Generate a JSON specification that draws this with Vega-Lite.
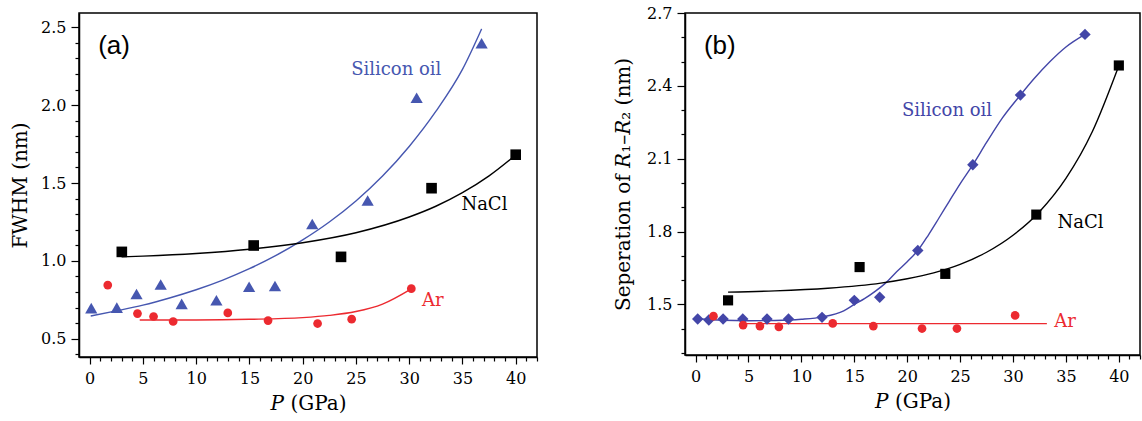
{
  "$schema": "https://vega.github.io/schema/vega-lite/v6.json",
  "background": "white",
  "padding": {"left": 9, "top": 4, "right": 0, "bottom": 0},
  "spacing": 148,
  "bounds": "flush",
  "config": {
    "view": {"stroke": "black", "strokeWidth": 1.5},
    "axis": {
      "domainColor": "black", "domainWidth": 1.5, "tickColor": "black", "tickWidth": 1.2,
      "labelFont": "DejaVu Serif", "labelFontSize": 16, "labelColor": "black",
      "titleFont": "DejaVu Serif", "titleFontSize": 20, "titleFontWeight": "normal", "titleColor": "black",
      "grid": false, "labelOverlap": false, "labelBound": false, "labelFlush": false
    }
  },
  "resolve": {"scale": {"color": "independent", "shape": "independent", "size": "independent"}},
  "datasets": {
    "pts": [
      {"panel": "a", "series": "Silicon oil", "P": 0.15, "v": 0.697},
      {"panel": "a", "series": "Silicon oil", "P": 2.55, "v": 0.70},
      {"panel": "a", "series": "Silicon oil", "P": 4.4, "v": 0.788},
      {"panel": "a", "series": "Silicon oil", "P": 6.67, "v": 0.849},
      {"panel": "a", "series": "Silicon oil", "P": 8.64, "v": 0.724},
      {"panel": "a", "series": "Silicon oil", "P": 11.9, "v": 0.747},
      {"panel": "a", "series": "Silicon oil", "P": 14.97, "v": 0.834},
      {"panel": "a", "series": "Silicon oil", "P": 17.4, "v": 0.839},
      {"panel": "a", "series": "Silicon oil", "P": 20.9, "v": 1.237},
      {"panel": "a", "series": "Silicon oil", "P": 26.1, "v": 1.388},
      {"panel": "a", "series": "Silicon oil", "P": 30.7, "v": 2.048},
      {"panel": "a", "series": "Silicon oil", "P": 36.8, "v": 2.398},
      {"panel": "a", "series": "NaCl", "P": 3.02, "v": 1.058},
      {"panel": "a", "series": "NaCl", "P": 15.4, "v": 1.099},
      {"panel": "a", "series": "NaCl", "P": 23.6, "v": 1.026},
      {"panel": "a", "series": "NaCl", "P": 32.1, "v": 1.467},
      {"panel": "a", "series": "NaCl", "P": 40.0, "v": 1.682},
      {"panel": "a", "series": "Ar", "P": 1.7, "v": 0.845},
      {"panel": "a", "series": "Ar", "P": 4.49, "v": 0.662},
      {"panel": "a", "series": "Ar", "P": 6.0, "v": 0.643},
      {"panel": "a", "series": "Ar", "P": 7.84, "v": 0.611},
      {"panel": "a", "series": "Ar", "P": 12.97, "v": 0.666},
      {"panel": "a", "series": "Ar", "P": 16.75, "v": 0.617},
      {"panel": "a", "series": "Ar", "P": 21.4, "v": 0.598},
      {"panel": "a", "series": "Ar", "P": 24.6, "v": 0.626},
      {"panel": "a", "series": "Ar", "P": 30.2, "v": 0.822},
      {"panel": "b", "series": "Silicon oil", "P": 0.2, "v": 1.440},
      {"panel": "b", "series": "Silicon oil", "P": 1.25, "v": 1.436},
      {"panel": "b", "series": "Silicon oil", "P": 2.6, "v": 1.440},
      {"panel": "b", "series": "Silicon oil", "P": 4.46, "v": 1.440},
      {"panel": "b", "series": "Silicon oil", "P": 6.75, "v": 1.440},
      {"panel": "b", "series": "Silicon oil", "P": 8.78, "v": 1.440},
      {"panel": "b", "series": "Silicon oil", "P": 11.95, "v": 1.447},
      {"panel": "b", "series": "Silicon oil", "P": 15.0, "v": 1.517},
      {"panel": "b", "series": "Silicon oil", "P": 17.4, "v": 1.530},
      {"panel": "b", "series": "Silicon oil", "P": 21.0, "v": 1.722},
      {"panel": "b", "series": "Silicon oil", "P": 26.2, "v": 2.075},
      {"panel": "b", "series": "Silicon oil", "P": 30.7, "v": 2.362},
      {"panel": "b", "series": "Silicon oil", "P": 36.8, "v": 2.612},
      {"panel": "b", "series": "NaCl", "P": 3.07, "v": 1.517},
      {"panel": "b", "series": "NaCl", "P": 15.5, "v": 1.654},
      {"panel": "b", "series": "NaCl", "P": 23.6, "v": 1.626},
      {"panel": "b", "series": "NaCl", "P": 32.2, "v": 1.870},
      {"panel": "b", "series": "NaCl", "P": 40.0, "v": 2.484},
      {"panel": "b", "series": "Ar", "P": 1.69, "v": 1.452},
      {"panel": "b", "series": "Ar", "P": 4.49, "v": 1.415},
      {"panel": "b", "series": "Ar", "P": 6.08, "v": 1.411},
      {"panel": "b", "series": "Ar", "P": 7.87, "v": 1.408},
      {"panel": "b", "series": "Ar", "P": 12.96, "v": 1.422},
      {"panel": "b", "series": "Ar", "P": 16.8, "v": 1.411},
      {"panel": "b", "series": "Ar", "P": 21.4, "v": 1.401},
      {"panel": "b", "series": "Ar", "P": 24.7, "v": 1.401},
      {"panel": "b", "series": "Ar", "P": 30.2, "v": 1.455}
    ],
    "crv": [
      {"panel": "a", "series": "Silicon oil", "P": 0.1, "v": 0.646},
      {"panel": "a", "series": "Silicon oil", "P": 2.5, "v": 0.679},
      {"panel": "a", "series": "Silicon oil", "P": 5, "v": 0.716},
      {"panel": "a", "series": "Silicon oil", "P": 7.5, "v": 0.762},
      {"panel": "a", "series": "Silicon oil", "P": 10, "v": 0.815},
      {"panel": "a", "series": "Silicon oil", "P": 12.5, "v": 0.877},
      {"panel": "a", "series": "Silicon oil", "P": 15, "v": 0.95},
      {"panel": "a", "series": "Silicon oil", "P": 17.5, "v": 1.035},
      {"panel": "a", "series": "Silicon oil", "P": 20, "v": 1.135},
      {"panel": "a", "series": "Silicon oil", "P": 22.5, "v": 1.25},
      {"panel": "a", "series": "Silicon oil", "P": 25, "v": 1.385},
      {"panel": "a", "series": "Silicon oil", "P": 27.5, "v": 1.545},
      {"panel": "a", "series": "Silicon oil", "P": 30, "v": 1.735},
      {"panel": "a", "series": "Silicon oil", "P": 32.5, "v": 1.96},
      {"panel": "a", "series": "Silicon oil", "P": 35, "v": 2.23},
      {"panel": "a", "series": "Silicon oil", "P": 36.8, "v": 2.49},
      {"panel": "a", "series": "NaCl", "P": 3.0, "v": 1.026},
      {"panel": "a", "series": "NaCl", "P": 5, "v": 1.031},
      {"panel": "a", "series": "NaCl", "P": 10, "v": 1.048},
      {"panel": "a", "series": "NaCl", "P": 15, "v": 1.075},
      {"panel": "a", "series": "NaCl", "P": 20, "v": 1.117},
      {"panel": "a", "series": "NaCl", "P": 25, "v": 1.181},
      {"panel": "a", "series": "NaCl", "P": 30, "v": 1.282},
      {"panel": "a", "series": "NaCl", "P": 32.5, "v": 1.351},
      {"panel": "a", "series": "NaCl", "P": 35, "v": 1.438},
      {"panel": "a", "series": "NaCl", "P": 37.5, "v": 1.546},
      {"panel": "a", "series": "NaCl", "P": 40, "v": 1.68},
      {"panel": "a", "series": "Ar", "P": 4.7, "v": 0.621},
      {"panel": "a", "series": "Ar", "P": 10, "v": 0.621},
      {"panel": "a", "series": "Ar", "P": 15, "v": 0.625},
      {"panel": "a", "series": "Ar", "P": 20, "v": 0.636},
      {"panel": "a", "series": "Ar", "P": 22.5, "v": 0.65},
      {"panel": "a", "series": "Ar", "P": 25, "v": 0.675},
      {"panel": "a", "series": "Ar", "P": 27.5, "v": 0.723},
      {"panel": "a", "series": "Ar", "P": 30.2, "v": 0.821},
      {"panel": "b", "series": "Silicon oil", "P": 0.2, "v": 1.441},
      {"panel": "b", "series": "Silicon oil", "P": 2.5, "v": 1.435},
      {"panel": "b", "series": "Silicon oil", "P": 5, "v": 1.433},
      {"panel": "b", "series": "Silicon oil", "P": 7.5, "v": 1.434},
      {"panel": "b", "series": "Silicon oil", "P": 10, "v": 1.439},
      {"panel": "b", "series": "Silicon oil", "P": 12, "v": 1.449},
      {"panel": "b", "series": "Silicon oil", "P": 14, "v": 1.474},
      {"panel": "b", "series": "Silicon oil", "P": 15, "v": 1.5},
      {"panel": "b", "series": "Silicon oil", "P": 16, "v": 1.525},
      {"panel": "b", "series": "Silicon oil", "P": 17, "v": 1.555},
      {"panel": "b", "series": "Silicon oil", "P": 18, "v": 1.59},
      {"panel": "b", "series": "Silicon oil", "P": 19, "v": 1.635},
      {"panel": "b", "series": "Silicon oil", "P": 20, "v": 1.676},
      {"panel": "b", "series": "Silicon oil", "P": 21, "v": 1.722},
      {"panel": "b", "series": "Silicon oil", "P": 22, "v": 1.786},
      {"panel": "b", "series": "Silicon oil", "P": 23, "v": 1.856},
      {"panel": "b", "series": "Silicon oil", "P": 24, "v": 1.927},
      {"panel": "b", "series": "Silicon oil", "P": 25, "v": 1.997},
      {"panel": "b", "series": "Silicon oil", "P": 26.2, "v": 2.075},
      {"panel": "b", "series": "Silicon oil", "P": 27.5, "v": 2.167},
      {"panel": "b", "series": "Silicon oil", "P": 29, "v": 2.268},
      {"panel": "b", "series": "Silicon oil", "P": 30.7, "v": 2.362},
      {"panel": "b", "series": "Silicon oil", "P": 32, "v": 2.43},
      {"panel": "b", "series": "Silicon oil", "P": 33.5, "v": 2.5},
      {"panel": "b", "series": "Silicon oil", "P": 35, "v": 2.56},
      {"panel": "b", "series": "Silicon oil", "P": 36.8, "v": 2.612},
      {"panel": "b", "series": "NaCl", "P": 3.07, "v": 1.551},
      {"panel": "b", "series": "NaCl", "P": 7.5, "v": 1.556},
      {"panel": "b", "series": "NaCl", "P": 12.5, "v": 1.567},
      {"panel": "b", "series": "NaCl", "P": 17.5, "v": 1.588},
      {"panel": "b", "series": "NaCl", "P": 20, "v": 1.606},
      {"panel": "b", "series": "NaCl", "P": 22.5, "v": 1.63},
      {"panel": "b", "series": "NaCl", "P": 25, "v": 1.665},
      {"panel": "b", "series": "NaCl", "P": 27.5, "v": 1.715},
      {"panel": "b", "series": "NaCl", "P": 30, "v": 1.785},
      {"panel": "b", "series": "NaCl", "P": 32.5, "v": 1.882},
      {"panel": "b", "series": "NaCl", "P": 35, "v": 2.019},
      {"panel": "b", "series": "NaCl", "P": 37.5, "v": 2.212},
      {"panel": "b", "series": "NaCl", "P": 40, "v": 2.483},
      {"panel": "b", "series": "Ar", "P": 4.2, "v": 1.421},
      {"panel": "b", "series": "Ar", "P": 33.2, "v": 1.421}
    ],
    "lbl": [
      {"panel": "a", "series": "Silicon oil", "P": 24.55, "v": 2.226, "text": "Silicon oil"},
      {"panel": "a", "series": "NaCl", "P": 34.9, "v": 1.36, "text": "NaCl"},
      {"panel": "a", "series": "Ar", "P": 31.2, "v": 0.744, "text": "Ar"},
      {"panel": "b", "series": "Silicon oil", "P": 19.5, "v": 2.295, "text": "Silicon oil"},
      {"panel": "b", "series": "NaCl", "P": 34.2, "v": 1.836, "text": "NaCl"},
      {"panel": "b", "series": "Ar", "P": 33.9, "v": 1.427, "text": "Ar"}
    ],
    "tag": [
      {"panel": "a", "P": 0.8, "v": 2.377, "text": "(a)"},
      {"panel": "b", "P": 0.79, "v": 2.565, "text": "(b)"}
    ]
  },
  "hconcat": [
    {
      "width": 458,
      "height": 344,
      "encoding": {
        "x": {"field": "P", "type": "quantitative", "scale": {"domain": [-1, 42], "nice": false, "zero": false},
          "axis": {"title": "𝑃 (GPa)", "titlePadding": 7, "format": "d",
            "values": [0,1,2,3,4,5,6,7,8,9,10,11,12,13,14,15,16,17,18,19,20,21,22,23,24,25,26,27,28,29,30,31,32,33,34,35,36,37,38,39,40,41,42],
            "labelExpr": "datum.value % 5 === 0 ? datum.label : ''",
            "tickSize": {"condition": {"test": "datum.value % 5 === 0", "value": 7}, "value": 4},
            "labelPadding": 6}},
        "y": {"field": "v", "type": "quantitative", "scale": {"domain": [0.383, 2.592], "nice": false, "zero": false},
          "axis": {"title": "FWHM (nm)", "titlePadding": 10, "format": ".1f",
            "values": [0.4,0.5,0.6,0.7,0.8,0.9,1.0,1.1,1.2,1.3,1.4,1.5,1.6,1.7,1.8,1.9,2.0,2.1,2.2,2.3,2.4,2.5],
            "labelExpr": "round(datum.value * 10) % 5 === 0 ? datum.label : ''",
            "tickSize": {"condition": {"test": "round(datum.value * 10) % 5 === 0", "value": 8}, "value": 4},
            "labelPadding": 5}}
      },
      "layer": [
        {
          "data": {"name": "crv"},
          "transform": [{"filter": "datum.panel === 'a'"}],
          "mark": {"type": "line", "interpolate": "monotone", "strokeWidth": 1.4},
          "encoding": {"color": {"field": "series", "type": "nominal", "legend": null,
            "scale": {"domain": ["Silicon oil", "NaCl", "Ar"], "range": ["#4657b0", "#000000", "#ec2a30"]}}}
        },
        {
          "data": {"name": "pts"},
          "transform": [{"filter": "datum.panel === 'a'"}],
          "mark": {"type": "point", "filled": true, "opacity": 1},
          "encoding": {
            "color": {"field": "series", "type": "nominal", "legend": null,
              "scale": {"domain": ["Silicon oil", "NaCl", "Ar"], "range": ["#3350a2", "#000000", "#ec2a30"]}},
            "shape": {"field": "series", "type": "nominal", "legend": null,
              "scale": {"domain": ["Silicon oil", "NaCl", "Ar"], "range": ["triangle-up", "square", "circle"]}},
            "size": {"field": "series", "type": "nominal", "legend": null,
              "scale": {"domain": ["Silicon oil", "NaCl", "Ar"], "range": [150, 76, 95]}}
          }
        },
        {
          "data": {"name": "lbl"},
          "transform": [{"filter": "datum.panel === 'a'"}],
          "mark": {"type": "text", "align": "left", "baseline": "middle", "font": "DejaVu Serif", "fontSize": 18},
          "encoding": {
            "text": {"field": "text"},
            "color": {"field": "series", "type": "nominal", "legend": null,
              "scale": {"domain": ["Silicon oil", "NaCl", "Ar"], "range": ["#4a5db5", "#000000", "#ec3a40"]}}
          }
        },
        {
          "data": {"name": "tag"},
          "transform": [{"filter": "datum.panel === 'a'"}],
          "mark": {"type": "text", "align": "left", "baseline": "middle", "font": "Liberation Sans", "fontSize": 26, "color": "black"},
          "encoding": {"text": {"field": "text"}}
        }
      ]
    },
    {
      "width": 455,
      "height": 342,
      "encoding": {
        "x": {"field": "P", "type": "quantitative", "scale": {"domain": [-1, 42], "nice": false, "zero": false},
          "axis": {"title": "𝑃 (GPa)", "titlePadding": 7, "format": "d",
            "values": [0,1,2,3,4,5,6,7,8,9,10,11,12,13,14,15,16,17,18,19,20,21,22,23,24,25,26,27,28,29,30,31,32,33,34,35,36,37,38,39,40,41,42],
            "labelExpr": "datum.value % 5 === 0 ? datum.label : ''",
            "tickSize": {"condition": {"test": "datum.value % 5 === 0", "value": 7}, "value": 4},
            "labelPadding": 6}},
        "y": {"field": "v", "type": "quantitative", "scale": {"domain": [1.292, 2.7], "nice": false, "zero": false},
          "axis": {"title": "Seperation of 𝑅₁–𝑅₂ (nm)", "titlePadding": 13, "format": ".1f",
            "values": [1.3,1.4,1.5,1.6,1.7,1.8,1.9,2.0,2.1,2.2,2.3,2.4,2.5,2.6,2.7],
            "labelExpr": "round(datum.value * 10) % 3 === 0 ? datum.label : ''",
            "tickSize": {"condition": {"test": "round(datum.value * 10) % 3 === 0", "value": 8}, "value": 4},
            "labelPadding": 5}}
      },
      "layer": [
        {
          "data": {"name": "crv"},
          "transform": [{"filter": "datum.panel === 'b'"}],
          "mark": {"type": "line", "interpolate": "monotone", "strokeWidth": 1.4},
          "encoding": {"color": {"field": "series", "type": "nominal", "legend": null,
            "scale": {"domain": ["Silicon oil", "NaCl", "Ar"], "range": ["#4346a8", "#000000", "#ec2a30"]}}}
        },
        {
          "data": {"name": "pts"},
          "transform": [{"filter": "datum.panel === 'b'"}],
          "mark": {"type": "point", "filled": true, "opacity": 1},
          "encoding": {
            "color": {"field": "series", "type": "nominal", "legend": null,
              "scale": {"domain": ["Silicon oil", "NaCl", "Ar"], "range": ["#2b3592", "#111111", "#ec2a30"]}},
            "shape": {"field": "series", "type": "nominal", "legend": null,
              "scale": {"domain": ["Silicon oil", "NaCl", "Ar"], "range": ["diamond", "square", "circle"]}},
            "size": {"field": "series", "type": "nominal", "legend": null,
              "scale": {"domain": ["Silicon oil", "NaCl", "Ar"], "range": [130, 76, 95]}}
          }
        },
        {
          "data": {"name": "lbl"},
          "transform": [{"filter": "datum.panel === 'b'"}],
          "mark": {"type": "text", "align": "left", "baseline": "middle", "font": "DejaVu Serif", "fontSize": 18},
          "encoding": {
            "text": {"field": "text"},
            "color": {"field": "series", "type": "nominal", "legend": null,
              "scale": {"domain": ["Silicon oil", "NaCl", "Ar"], "range": ["#3a3ea0", "#000000", "#ec3a40"]}}
          }
        },
        {
          "data": {"name": "tag"},
          "transform": [{"filter": "datum.panel === 'b'"}],
          "mark": {"type": "text", "align": "left", "baseline": "middle", "font": "Liberation Sans", "fontSize": 26, "color": "black"},
          "encoding": {"text": {"field": "text"}}
        }
      ]
    }
  ]
}
